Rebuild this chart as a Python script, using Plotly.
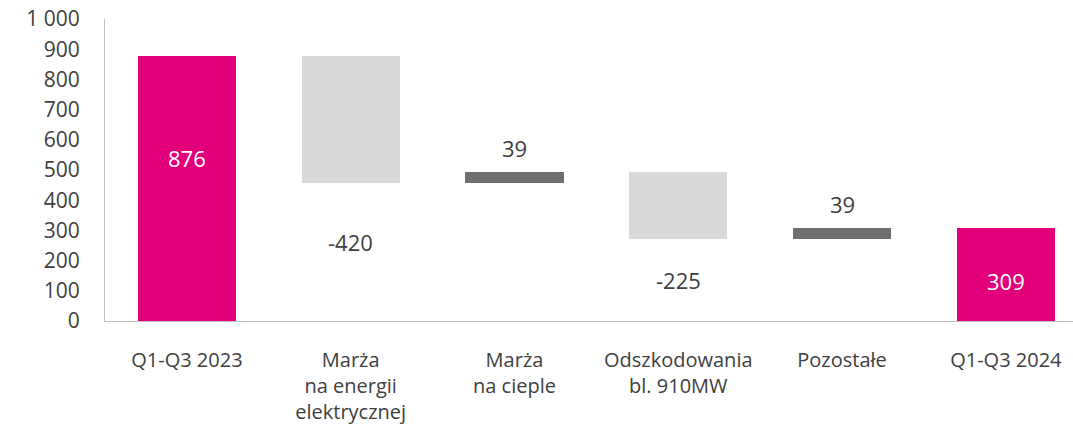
import plotly.graph_objects as go

categories = ["Q1-Q3 2023", "Marża<br>na energii<br>elektrycznej", "Marża<br>na cieple",
              "Odszkodowania<br>bl. 910MW", "Pozostałe", "Q1-Q3 2024"]
values = [876, -420, 39, -225, 39, 309]
kinds = ["total", "delta", "delta", "delta", "delta", "total"]
y_ticks = [0, 100, 200, 300, 400, 500, 600, 700, 800, 900, 1000]
y_tick_labels = ["0", "100", "200", "300", "400", "500", "600", "700", "800", "900", "1 000"]

PINK = "#E2007A"
LIGHT = "#D9D9D9"
DARK = "#6E6E6E"
TXT = "#404040"
FONT = "Open Sans"

bases, heights, colors = [], [], []
running = 0
for v, k in zip(values, kinds):
    if k == "total":
        bases.append(0)
        heights.append(v)
        colors.append(PINK)
        running = v
    else:
        if v >= 0:
            bases.append(running)
            colors.append(DARK)
        else:
            bases.append(running + v)
            colors.append(LIGHT)
        heights.append(abs(v))
        running += v

x = list(range(len(categories)))
fig = go.Figure()
fig.add_trace(go.Bar(x=x, y=heights, base=bases, width=0.6,
                     marker=dict(color=colors, line=dict(width=0)),
                     hoverinfo="skip", showlegend=False))

# pixel offsets of the data labels (style only)
label_shift = {0: 31, 1: -42, 2: 7, 3: -24, 4: 7, 5: -7}
for i, (v, k) in enumerate(zip(values, kinds)):
    label = str(v)
    if k == "total":
        fig.add_annotation(x=i, y=bases[i] + heights[i] / 2, text=label, showarrow=False,
                           yshift=label_shift[i],
                           font=dict(family=FONT, size=22, color="white"))
    elif v >= 0:
        fig.add_annotation(x=i, y=bases[i] + heights[i], text=label, showarrow=False,
                           yanchor="bottom", yshift=label_shift[i],
                           font=dict(family=FONT, size=22, color=TXT))
    else:
        fig.add_annotation(x=i, y=bases[i], text=label, showarrow=False,
                           yanchor="top", yshift=label_shift[i],
                           font=dict(family=FONT, size=22, color=TXT))

fig.update_layout(
    width=1073, height=430,
    margin=dict(l=105, r=0, t=19, b=109, autoexpand=False),
    plot_bgcolor="white", paper_bgcolor="white",
    font=dict(family=FONT, size=20, color=TXT),
    bargap=0,
)
fig.update_xaxes(tickmode="array", tickvals=x, ticktext=categories,
                 range=[-0.5, 5.41], showgrid=False, showline=True,
                 linecolor="#BFBFBF", linewidth=1, ticks="", zeroline=False, automargin=False,
                 ticklabeloverflow="allow",
                 tickfont=dict(family=FONT, size=20, color=TXT), ticklabelstandoff=21)
fig.update_yaxes(range=[0, 1000], tickmode="array", tickvals=y_ticks, ticktext=y_tick_labels,
                 showgrid=False, showline=True, linecolor="#BFBFBF", linewidth=1,
                 ticks="", zeroline=False, ticklabelstandoff=20, automargin=False,
                 ticklabeloverflow="allow",
                 tickfont=dict(family=FONT, size=21, color=TXT))

fig.write_html("out.html", config={"displayModeBar": False},
               post_script="document.body.style.margin='0';document.body.style.overflow='hidden';")
